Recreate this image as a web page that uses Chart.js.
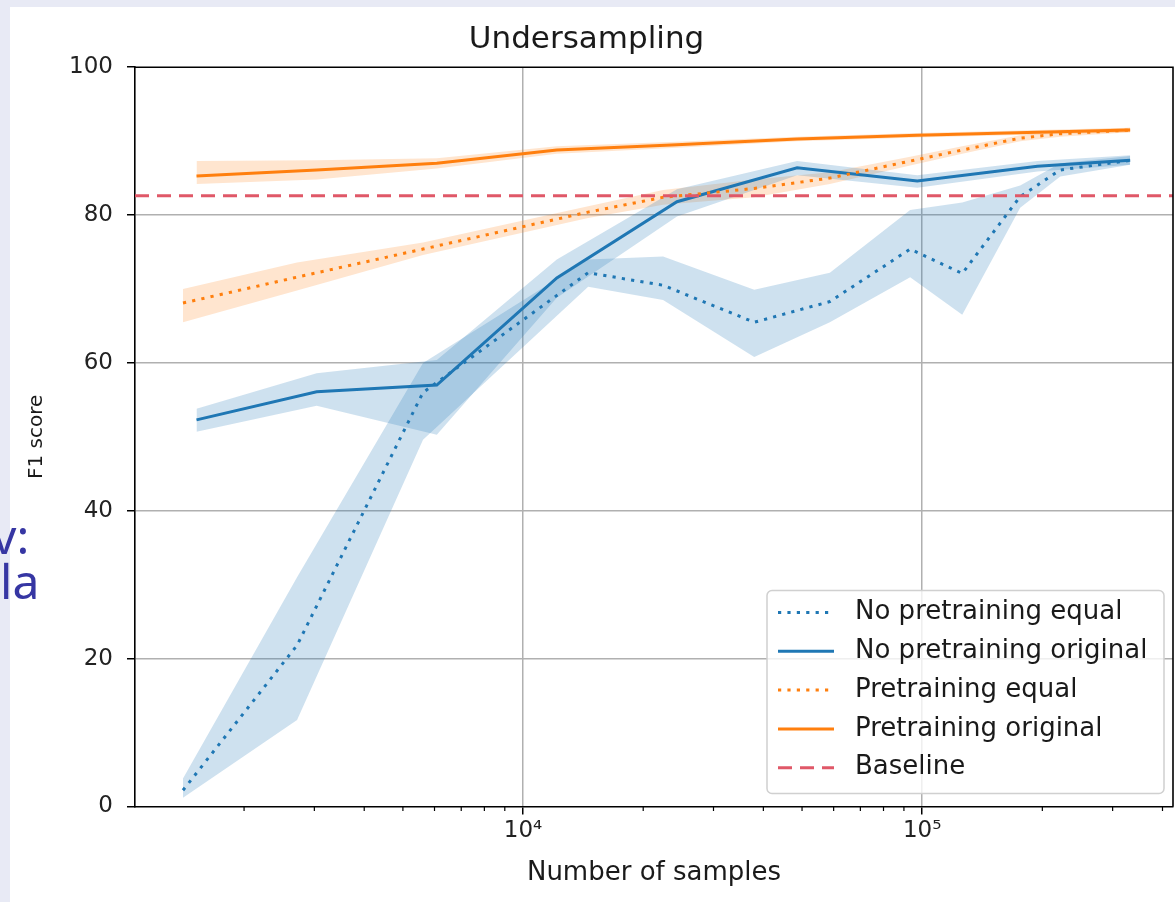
<!DOCTYPE html>
<html>
<head>
<meta charset="utf-8">
<script src="https://cdn.jsdelivr.net/npm/chart.js@4.4.1/dist/chart.umd.min.js"></script>
<style>
  html, body { margin: 0; padding: 0; }
  body { width: 1175px; height: 902px; background: #e8eaf5; position: relative; overflow: hidden; }
  #sheet { position: absolute; left: 10px; top: 7px; right: 0; bottom: 0; background: #fff; }
  #chart { position: absolute; left: 0; top: 0; }
  .slide { position: absolute; color: #3636a3; font-family: "Noto Sans"; font-size: 48px; line-height: 1; }
</style>
</head>
<body>
<div id="sheet"></div>
<canvas id="chart" width="1175" height="902"></canvas>
<div class="slide" style="top:512px; left:-8px">v:</div>
<div class="slide" style="top:557px; left:0px">la</div>
<script>
// x axis limits + tick positions (log scale)
const X_MIN = 1066;
const X_MAX = 425000;
const xTickValues = [2000, 3000, 4000, 5000, 6000, 7000, 8000, 9000,
  10000, 20000, 30000, 40000, 50000, 60000, 70000, 80000, 90000,
  100000, 200000, 300000, 400000];

// sample counts
const equalSamples = [1406, 2715, 5615, 14560, 22430, 37950, 58700, 93300, 126000, 176000, 221800, 332000];
const originalSamples = [1520, 3040, 6080, 12150, 24300, 48600, 97200, 194400, 332000];

// No pretraining, equal
const noPreEqual     = [2.2, 21.8, 56.0, 72.2, 70.5, 65.5, 68.3, 75.4, 72.1, 82.5, 86.1, 87.4];
const noPreEqualLow  = [1.2, 11.7, 49.6, 70.3, 68.5, 60.8, 65.5, 71.6, 66.5, 81.0, 85.2, 86.8];
const noPreEqualHigh = [3.8, 31.0, 60.0, 74.0, 74.4, 69.9, 72.2, 80.7, 81.7, 84.0, 87.0, 88.0];

// No pretraining, original
const noPreOrig     = [52.3, 56.1, 57.0, 71.5, 81.8, 86.4, 84.6, 86.6, 87.4];
const noPreOrigLow  = [50.7, 54.2, 50.3, 68.8, 79.8, 85.4, 83.7, 85.9, 86.8];
const noPreOrigHigh = [53.8, 58.6, 60.4, 74.0, 83.5, 87.3, 85.4, 87.3, 88.1];

// Pretraining, equal
const preEqual     = [68.1, 71.6, 75.4, 80.4, 82.4, 83.6, 85.0, 87.3, 88.8, 90.4, 91.0, 91.5];
const preEqualLow  = [65.5, 69.8, 74.6, 79.6, 81.4, 82.4, 84.2, 86.7, 88.3, 90.0, 90.6, 91.2];
const preEqualHigh = [70.0, 73.6, 76.3, 81.2, 83.4, 84.8, 85.8, 87.9, 89.3, 90.8, 91.4, 91.8];

// Pretraining, original
const preOrig     = [85.3, 86.1, 87.0, 88.8, 89.5, 90.3, 90.8, 91.2, 91.5];
const preOrigLow  = [84.2, 84.8, 86.3, 88.3, 89.1, 90.0, 90.5, 90.9, 91.2];
const preOrigHigh = [87.3, 87.4, 87.7, 89.3, 89.9, 90.6, 91.1, 91.5, 91.8];

const baselineScore = 82.6;

const BLUE = '#1f77b4';
const ORANGE = '#ff7f0e';
const RED = '#e05868';
const BLUE_BAND = 'rgba(31,119,180,0.22)';
const ORANGE_BAND = 'rgba(255,127,14,0.2)';
const GRID = '#b0b0b0';
const FONT = '"DejaVu Sans", sans-serif';
const DOTS = [3.2, 6.2];

Chart.defaults.font.family = FONT;

function pts(xs, ys) {
  return xs.map((x, i) => ({x: x, y: ys[i]}));
}
function isPow10(v) {
  const l = Math.log10(v);
  return Math.abs(l - Math.round(l)) < 1e-9;
}
const SUP = {'0':'⁰','1':'¹','2':'²','3':'³','4':'⁴','5':'⁵','6':'⁶','7':'⁷','8':'⁸','9':'⁹'};

function band(xs, lo, hi, color) {
  return [
    {label: '_lo', data: pts(xs, lo), borderWidth: 0, pointRadius: 0, fill: false, order: 20},
    {label: '_hi', data: pts(xs, hi), borderWidth: 0, pointRadius: 0, fill: '-1', backgroundColor: color, order: 20}
  ];
}
function line(label, xs, ys, color, dash, order) {
  return {label: label, data: pts(xs, ys), borderColor: color, backgroundColor: color,
    borderWidth: 3, borderDash: dash, pointRadius: 0, tension: 0, fill: false, order: order, inLegend: true};
}

const datasets = [].concat(
  band(equalSamples, noPreEqualLow, noPreEqualHigh, BLUE_BAND),
  band(originalSamples, noPreOrigLow, noPreOrigHigh, BLUE_BAND),
  band(equalSamples, preEqualLow, preEqualHigh, ORANGE_BAND),
  band(originalSamples, preOrigLow, preOrigHigh, ORANGE_BAND),
  [
    line('No pretraining equal', equalSamples, noPreEqual, BLUE, DOTS, 5),
    line('No pretraining original', originalSamples, noPreOrig, BLUE, [], 4),
    line('Pretraining equal', equalSamples, preEqual, ORANGE, DOTS, 3),
    line('Pretraining original', originalSamples, preOrig, ORANGE, [], 2),
    line('Baseline', [X_MIN, X_MAX], [baselineScore, baselineScore], RED, [14, 8], 1)
  ]
);

// spines on top/right, short minor ticks, legend inside the axes
const framePlugin = {
  id: 'frame',
  afterDraw(chart) {
    const ctx = chart.ctx;
    const a = chart.chartArea;
    const xs = chart.scales.x;
    ctx.save();
    ctx.strokeStyle = '#000';
    ctx.lineWidth = 1.6;
    ctx.beginPath();
    ctx.moveTo(a.left, a.top);
    ctx.lineTo(a.right, a.top);
    ctx.lineTo(a.right, a.bottom);
    ctx.stroke();

    ctx.lineWidth = 1.2;
    xTickValues.forEach(v => {
      if (isPow10(v)) return;
      const px = xs.getPixelForValue(v);
      ctx.beginPath();
      ctx.moveTo(px, a.bottom);
      ctx.lineTo(px, a.bottom + 4.5);
      ctx.stroke();
    });

    // legend
    const items = chart.data.datasets.filter(d => d.inLegend);
    const rowH = 38.8;
    const boxR = a.right - 9;
    const boxB = a.bottom - 13;
    const boxW = 397;
    const boxH = items.length * rowH + 9;
    const boxL = boxR - boxW;
    const boxT = boxB - boxH;
    ctx.fillStyle = 'rgba(255,255,255,0.8)';
    ctx.strokeStyle = '#d0d0d0';
    ctx.lineWidth = 1.5;
    ctx.beginPath();
    ctx.roundRect(boxL, boxT, boxW, boxH, 5);
    ctx.fill();
    ctx.stroke();

    ctx.font = '26px ' + FONT;
    ctx.textBaseline = 'middle';
    ctx.textAlign = 'left';
    items.forEach((d, i) => {
      const cy = boxT + 22 + i * rowH;
      ctx.strokeStyle = d.borderColor;
      ctx.lineWidth = d.borderWidth;
      ctx.setLineDash(d.borderDash || []);
      ctx.beginPath();
      ctx.moveTo(boxL + 11, cy);
      ctx.lineTo(boxL + 67, cy);
      ctx.stroke();
      ctx.setLineDash([]);
      ctx.fillStyle = '#1a1a1a';
      ctx.fillText(d.label, boxL + 88, cy);
    });
    ctx.restore();
  }
};

new Chart(document.getElementById('chart'), {
  type: 'line',
  data: {datasets: datasets},
  options: {
    responsive: false,
    animation: false,
    layout: {padding: {left: 0, right: 2, top: 0, bottom: 0}},
    plugins: {
      legend: {display: false},
      tooltip: {enabled: false},
      title: {
        display: true,
        text: 'Undersampling',
        color: '#1a1a1a',
        font: {size: 31, weight: 'normal', lineHeight: 1.2},
        padding: {top: 21, bottom: 9}
      }
    },
    scales: {
      x: {
        type: 'logarithmic',
        min: X_MIN,
        max: X_MAX,
        afterBuildTicks: s => { s.ticks = xTickValues.map(v => ({value: v, major: false})); },
        afterFit: s => { s.height = 95.5; },
        ticks: {
          autoSkip: false,
          maxRotation: 0,
          padding: 3,
          color: '#222',
          font: {size: 23},
          callback: v => isPow10(v) ? '10' + String(Math.round(Math.log10(v))).split('').map(c => SUP[c]).join('') : ''
        },
        grid: {
          color: c => isPow10(c.tick.value) ? GRID : 'transparent',
          lineWidth: 1.5,
          tickLength: 8,
          tickWidth: 1.5,
          tickColor: c => isPow10(c.tick.value) ? '#000' : 'transparent'
        },
        border: {color: '#000', width: 1.6},
        title: {
          display: true,
          text: 'Number of samples',
          color: '#1a1a1a',
          font: {size: 26, lineHeight: 1},
          padding: {top: 0, bottom: 16}
        }
      },
      y: {
        min: 0,
        max: 100,
        afterFit: s => { s.width = 135; },
        ticks: {stepSize: 20, padding: 14, color: '#222', font: {size: 23}},
        grid: {
          color: c => (c.tick.value === 0 || c.tick.value === 100) ? 'transparent' : GRID,
          lineWidth: 1.5,
          tickLength: 8,
          tickWidth: 1.5,
          tickColor: '#000'
        },
        border: {color: '#000', width: 1.6},
        title: {
          display: true,
          text: 'F1 score',
          color: '#1a1a1a',
          font: {size: 20, lineHeight: 1},
          padding: {top: 27, bottom: 0}
        }
      }
    }
  },
  plugins: [framePlugin]
});
</script>
</body>
</html>
